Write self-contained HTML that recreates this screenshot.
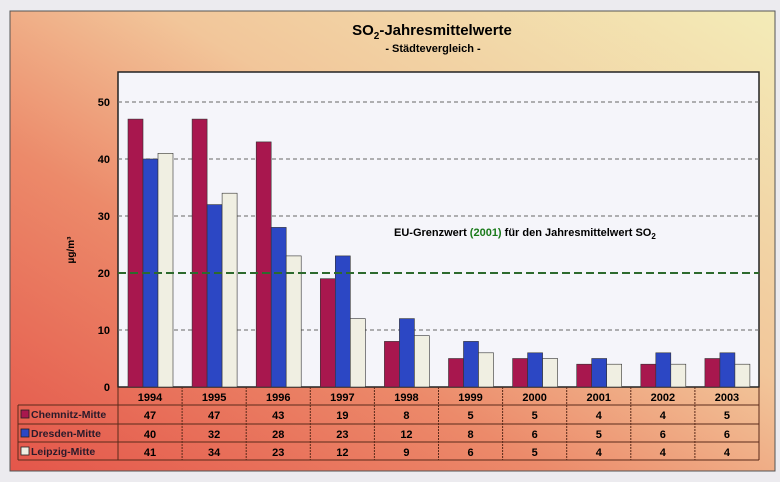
<!DOCTYPE html>
<html><head><meta charset="utf-8"><style>
body{margin:0;width:780px;height:482px;background:#ecebef;overflow:hidden;font-family:"Liberation Sans",Arial,sans-serif}
svg{display:block}
</style></head><body>
<svg width="780" height="482">
<defs>
<linearGradient id="bg" x1="0" y1="1" x2="1" y2="0">
<stop offset="0" stop-color="#e4564a"/>
<stop offset="0.35" stop-color="#ec8a6a"/>
<stop offset="0.6" stop-color="#f2c69a"/>
<stop offset="1" stop-color="#f3ecb8"/>
</linearGradient>
</defs>
<rect x="10" y="11" width="765" height="460" fill="url(#bg)" stroke="#555" stroke-width="1"/>
<text x="432" y="35" text-anchor="middle" font-weight="bold" font-size="15">SO<tspan font-size="10" dy="4">2</tspan><tspan dy="-4">-Jahresmittelwerte</tspan></text>
<text x="433" y="52" text-anchor="middle" font-weight="bold" font-size="11">- Städtevergleich -</text>
<rect x="118" y="72" width="641" height="315" fill="#f5f5fa" stroke="#222" stroke-width="1.5"/>
<g id="grid"></g>
<g id="bars"></g>
<text x="0" y="0" transform="translate(74,250) rotate(-90)" text-anchor="middle" font-weight="bold" font-size="10">µg/m³</text>
<text x="394" y="236" font-weight="bold" font-size="11">EU-Grenzwert <tspan fill="#1a7a1a">(2001)</tspan> für den Jahresmittelwert SO<tspan font-size="8" dy="3">2</tspan></text>
<g id="table"></g>
</svg>
<script>
const years=["1994","1995","1996","1997","1998","1999","2000","2001","2002","2003"];
const chemnitz=[47,47,43,19,8,5,5,4,4,5];
const dresden=[40,32,28,23,12,8,6,5,6,6];
const leipzig=[41,34,23,12,9,6,5,4,4,4];
const yTicks=[0,10,20,30,40,50];
const limitValue=20;
const seriesNames=["Chemnitz-Mitte","Dresden-Mitte","Leipzig-Mitte"];
const NS="http://www.w3.org/2000/svg";
const X0=118,X1=759,Y0=387,PX=5.7;
const cw=(X1-X0)/years.length;
function y(v){return Y0-v*PX;}
function x(i){return X0+i*cw;}
function mk(t,a,p){const e=document.createElementNS(NS,t);for(const k in a)e.setAttribute(k,a[k]);p.appendChild(e);return e;}
const grid=document.getElementById('grid');
yTicks.forEach(t=>{
  if(t>0&&t!==limitValue){const l=mk('line',{x1:X0,x2:X1,y1:y(t),y2:y(t),stroke:'#666','stroke-dasharray':'4,3','stroke-width':1},grid);
  
  }
  const tx=mk('text',{x:X0-8,y:y(t)+4,'text-anchor':'end','font-size':11,'font-weight':'bold'},grid);tx.textContent=t;
  
  
});
const series=[chemnitz,dresden,leipzig];
const colors=['#a8174e','#2c47c4','#f0efe2'];
const bars=document.getElementById('bars');
years.forEach((yr,i)=>{
  series.forEach((s,k)=>{
    const r=mk('rect',{x:x(i)+10+k*15,y:y(s[i]),width:15,height:s[i]*PX,fill:colors[k],stroke:'#333','stroke-width':0.6},bars);
    
    
  });
});
const ll=mk('line',{x1:X0,x2:X1,y1:y(limitValue),y2:y(limitValue),stroke:'#2d6a2d','stroke-dasharray':'8,4','stroke-width':2},bars);


const tb=document.getElementById('table');
const rows=[387,405,424,442,460];
mk('line',{x1:18,x2:X1,y1:405,y2:405,stroke:'#5a2a1a','stroke-width':1},tb);
mk('line',{x1:18,x2:X1,y1:424,y2:424,stroke:'#5a2a1a','stroke-width':1},tb);
mk('line',{x1:18,x2:X1,y1:442,y2:442,stroke:'#5a2a1a','stroke-width':1},tb);
mk('line',{x1:18,x2:X1,y1:460,y2:460,stroke:'#5a2a1a','stroke-width':1},tb);
mk('line',{x1:18,x2:18,y1:405,y2:460,stroke:'#5a2a1a','stroke-width':1},tb);
for(let i=0;i<=years.length;i++)mk('line',{x1:x(i),x2:x(i),y1:387,y2:460,stroke:'#5a2a1a','stroke-width':1,'stroke-dasharray':i==0||i==years.length?'':'2,1'},tb);
years.forEach((yr,i)=>{
  const t=mk('text',{x:x(i)+cw/2,y:401,'text-anchor':'middle','font-size':11,'font-weight':'bold'},tb);t.textContent=yr;
  
  
  series.forEach((s,k)=>{
    const c=mk('text',{x:x(i)+cw/2,y:rows[k+1]+14,'text-anchor':'middle','font-size':11,'font-weight':'bold'},tb);c.textContent=s[i];
    
    
  });
});
seriesNames.forEach((n,k)=>{
  const r=mk('rect',{x:21,y:rows[k+1]+5,width:8,height:8,fill:colors[k],stroke:'#222','stroke-width':0.8},tb);
  
  
  const t=mk('text',{x:31,y:rows[k+1]+13,'font-size':10.5,'font-weight':'bold',fill:'#2a1a2a'},tb);t.textContent=n;
  
  
});
</script>
</body></html>
